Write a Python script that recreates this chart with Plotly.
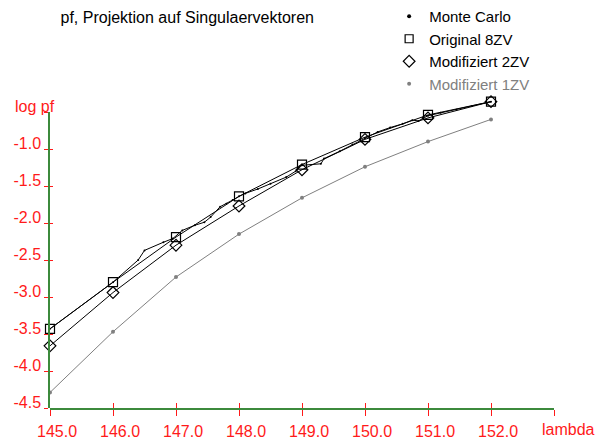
import plotly.graph_objects as go

# ---- data ----
lam = [145.0, 146.0, 147.0, 148.0, 149.0, 150.0, 151.0, 152.0]
orig_8zv = [-3.43, -2.80, -2.19, -1.64, -1.21, -0.84, -0.54, -0.36]
mod_2zv = [-3.66, -2.94, -2.30, -1.77, -1.28, -0.87, -0.58, -0.36]
mod_1zv = [-4.29, -3.47, -2.73, -2.15, -1.66, -1.24, -0.90, -0.60]

mc_lam = [145.0, 146.0, 146.4, 146.5, 146.8, 146.95, 147.1, 147.3, 147.45, 147.55,
          147.7, 147.8, 147.9, 148.0, 148.1, 148.3, 148.5, 148.75, 148.9, 149.0,
          149.3, 149.35, 149.6, 149.8, 150.0, 150.2, 150.4, 150.6, 150.75, 150.85,
          151.0, 151.2, 151.45, 151.7, 152.0]
mc_val = [-3.43, -2.80, -2.50, -2.37, -2.26, -2.21, -2.10, -2.03, -1.99, -1.92,
          -1.78, -1.74, -1.69, -1.64, -1.60, -1.54, -1.47, -1.38, -1.30, -1.22,
          -1.20, -1.13, -1.03, -0.94, -0.85, -0.77, -0.71, -0.66, -0.61, -0.62,
          -0.55, -0.51, -0.47, -0.42, -0.36]

x_ticks = [145, 146, 147, 148, 149, 150, 151, 152, 153]
x_ticktext = ["145.0", "146.0", "147.0", "148.0", "149.0", "150.0", "151.0", "152.0", ""]
y_ticks = [-4.5, -4.0, -3.5, -3.0, -2.5, -2.0, -1.5, -1.0, -0.5]
y_ticktext = ["-4.5", "-4.0", "-3.5", "-3.0", "-2.5", "-2.0", "-1.5", "-1.0", ""]

title = "pf, Projektion auf Singulaervektoren"
x_label = "lambda"
y_label = "log pf"

FONT = "Liberation Sans, Arial, sans-serif"
RED = "#ff1a1a"
GREEN = "#3c8a3c"
GRAY = "#808080"

# geometry: plot area spans y 80..408 px (328 px), axis drawn from -4.5 to -0.5 (296 px)
Y_MIN, Y_AXIS_TOP = -4.5, -0.5
PX_PER_UNIT = 74.0
PLOT_H = 328
Y_DATA_TOP = Y_MIN + PLOT_H / PX_PER_UNIT
AXIS_FRAC = (Y_AXIS_TOP - Y_MIN) * PX_PER_UNIT / PLOT_H

fig = go.Figure()

# invisible traces on the visible axis subplots (added first so they sit underneath)
fig.add_trace(go.Scatter(x=[None], y=[None], xaxis="x", yaxis="y2",
                         showlegend=False, hoverinfo="skip"))
fig.add_trace(go.Scatter(x=[None], y=[None], xaxis="x2", yaxis="y3",
                         showlegend=False, hoverinfo="skip"))

# data traces
fig.add_trace(go.Scatter(x=mc_lam, y=mc_val, mode="lines+markers", showlegend=False,
                         line=dict(color="black", width=1),
                         marker=dict(color="black", size=2), cliponaxis=False))
fig.add_trace(go.Scatter(x=lam, y=orig_8zv, mode="lines+markers", showlegend=False,
                         line=dict(color="black", width=1),
                         marker=dict(symbol="square-open", color="black", size=9,
                                     line=dict(width=1.2)), cliponaxis=False))
fig.add_trace(go.Scatter(x=lam, y=mod_2zv, mode="lines+markers", showlegend=False,
                         line=dict(color="black", width=1),
                         marker=dict(symbol="diamond-open", color="black", size=9,
                                     line=dict(width=1.2)), cliponaxis=False))
fig.add_trace(go.Scatter(x=lam, y=mod_1zv, mode="lines+markers", showlegend=False,
                         line=dict(color=GRAY, width=1),
                         marker=dict(color=GRAY, size=4), cliponaxis=False))

# legend-only entries (markers only)
fig.add_trace(go.Scatter(x=[None], y=[None], mode="markers", name="Monte Carlo",
                         marker=dict(color="black", size=4)))
fig.add_trace(go.Scatter(x=[None], y=[None], mode="markers", name="Original 8ZV",
                         marker=dict(symbol="square-open", color="black", size=8,
                                     line=dict(width=1.2))))
fig.add_trace(go.Scatter(x=[None], y=[None], mode="markers", name="Modifiziert 2ZV",
                         marker=dict(symbol="diamond-open", color="black", size=9,
                                     line=dict(width=1.2))))
fig.add_trace(go.Scatter(x=[None], y=[None], mode="markers",
                         name="<span style='color:%s'>Modifiziert 1ZV</span>" % GRAY,
                         marker=dict(color=GRAY, size=4)))

common_tick = dict(tickcolor=RED, tickwidth=1.3, showgrid=False, zeroline=False)

fig.update_layout(
    width=595, height=441,
    margin=dict(l=50, r=41, t=441 - 33 - PLOT_H, b=33, autoexpand=False),
    paper_bgcolor="white", plot_bgcolor="rgba(0,0,0,0)",
    font=dict(family=FONT, size=16, color="black"),
    showlegend=True,
    title=dict(text=title, xref="container", yref="container", x=60.5 / 595,
               y=1 - 17.5 / 441, xanchor="left", yanchor="middle",
               font=dict(size=16, color="black", family=FONT)),
    legend=dict(xref="container", yref="container", x=0.654, y=1.0,
                xanchor="left", yanchor="top", bgcolor="rgba(0,0,0,0)",
                font=dict(size=15, family=FONT), traceorder="normal",
                tracegroupgap=0),
    xaxis=dict(range=[145, 153], tickmode="array", tickvals=x_ticks, ticktext=x_ticktext,
               ticks="outside", ticklen=6, showline=True, linecolor=GREEN, linewidth=2,
               tickangle=0, ticklabelstandoff=2, anchor="y",
               tickfont=dict(color=RED, size=16, family=FONT), ticklabelshift=7,
               **common_tick),
    # data y axis (hidden, extends above the drawn axis so the top points are not clipped)
    yaxis=dict(range=[Y_MIN, Y_DATA_TOP], domain=[0, 1], visible=False, anchor="x"),
    # visible y axis
    yaxis2=dict(range=[Y_MIN, Y_AXIS_TOP], domain=[0, AXIS_FRAC], anchor="x",
                tickmode="array", tickvals=y_ticks, ticktext=y_ticktext,
                ticks="outside", ticklen=4, showline=True, linecolor=GREEN, linewidth=1.5,
                tickfont=dict(color=RED, size=16, family=FONT), ticklabelshift=-6,
                **common_tick),
    xaxis2=dict(overlaying="x", matches="x", anchor="y", side="bottom", tickmode="array",
                tickvals=x_ticks, ticks="inside", ticklen=5, showticklabels=False,
                showline=False, **common_tick),
    yaxis3=dict(overlaying="y2", matches="y2", anchor="x", side="left", tickmode="array",
                tickvals=y_ticks, ticks="inside", ticklen=3, showticklabels=False,
                showline=False, **common_tick),
    annotations=[
        dict(text=y_label, xref="paper", yref="y", x=(12.5 - 50) / 504, y=Y_AXIS_TOP,
             xanchor="left", yanchor="middle", yshift=6, showarrow=False,
             font=dict(size=16, color=RED, family=FONT)),
        dict(text=x_label, xref="x", yref="paper", x=153, y=0, xanchor="left",
             yanchor="middle", xshift=-14, yshift=-21, showarrow=False,
             font=dict(size=16, color=RED, family=FONT)),
    ],
)

fig.write_html("out.html", config={"displayModeBar": False},
               post_script="document.body.style.margin='0';document.body.style.padding='0';")
